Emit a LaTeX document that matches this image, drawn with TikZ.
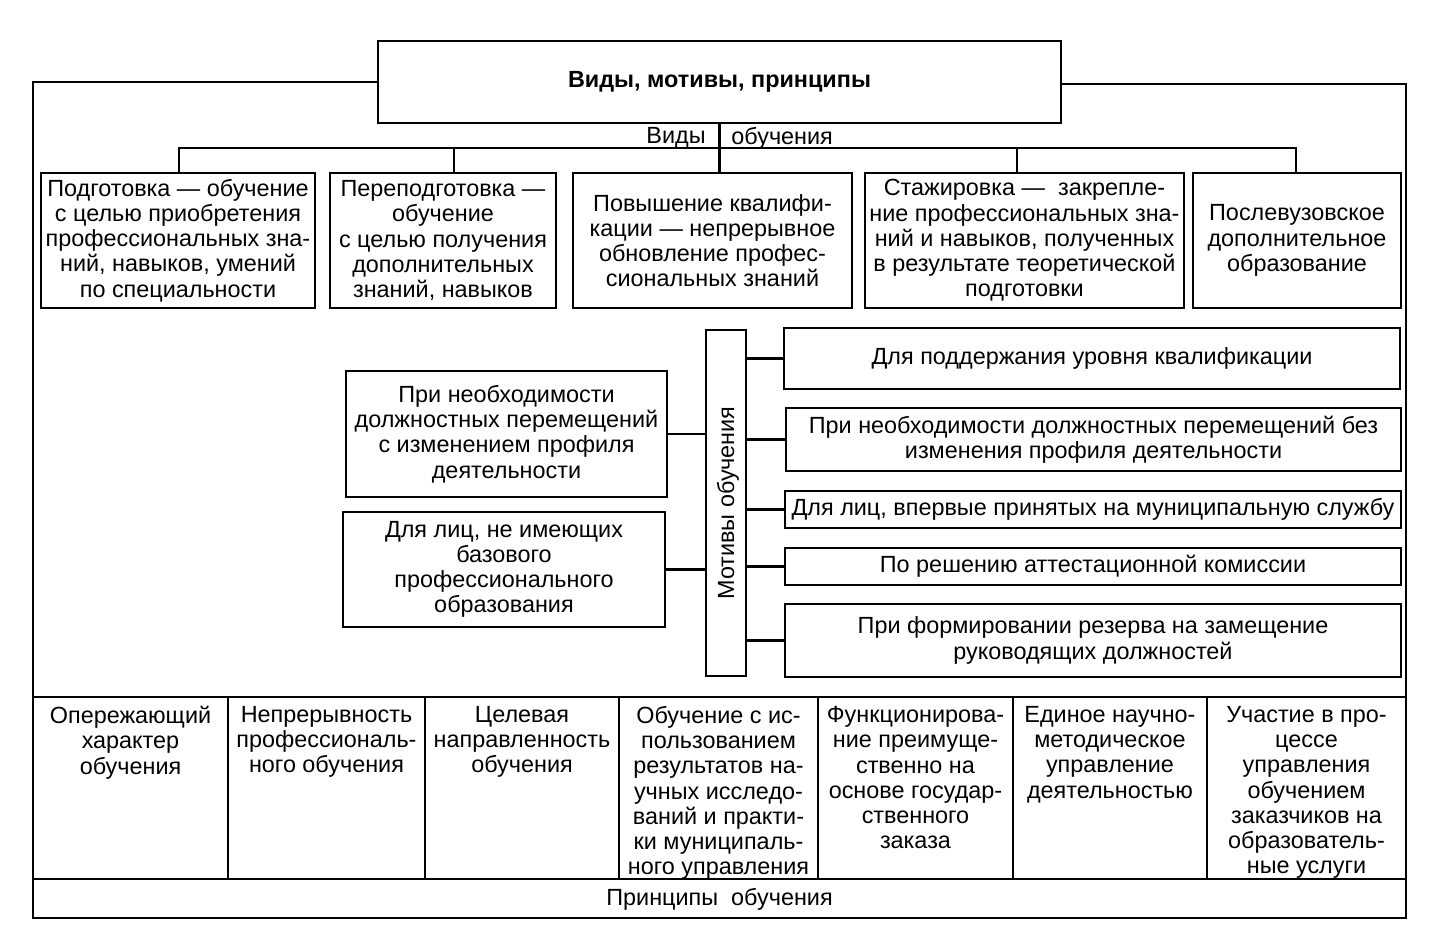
\documentclass[tikz,border=0pt]{standalone}
\usepackage{fontspec}
\setmainfont{Liberation Sans}
\begin{document}
\begin{tikzpicture}[x=0.5pt,y=-0.5pt,
  every node/.style={font=\fontsize{11.7}{12.6}\selectfont},
  ln/.style={line width=1.3pt},
  bx/.style={draw,line width=1.3pt,rectangle,inner xsep=1pt,inner ysep=0pt,align=center},
  lbl/.style={inner sep=0pt,align=center}]
\useasboundingbox (0,0) rectangle (1430,948);
% title
\node[bx,minimum width=341.5pt,minimum height=41pt,font=\fontsize{11.7}{12.6}\selectfont\bfseries] (title) at (719.5,82) {\raisebox{-1pt}{Виды, мотивы, принципы}};
% outer frame
\draw[ln] (title.west) -- (33,82) -- (33,918) -- (1406,918) -- (1406,84) -- (title.east |- 0,84);
% types of training
\node[bx,minimum width=137pt,minimum height=67.5pt] (b1) at (178,240.5) {Подготовка — обучение\\с целью приобретения\\профессиональных зна-\\ний, навыков, умений\\по специальности};
\node[bx,minimum width=113pt,minimum height=67.5pt] (b2) at (443,240.5) {Переподготовка —\\обучение\\с целью получения\\дополнительных\\знаний, навыков};
\node[bx,minimum width=139.5pt,minimum height=67.5pt] (b3) at (712.5,240.5) {Повышение квалифи-\\кации — непрерывное\\обновление профес-\\сиональных знаний};
\node[bx,minimum width=159.5pt,minimum height=67.5pt] (b4) at (1024.5,240.5) {Стажировка —\ \ закрепле-\\ние профессиональных зна-\\ний и навыков, полученных\\в результате теоретической\\подготовки};
\node[bx,minimum width=104pt,minimum height=67.5pt] (b5) at (1297,240.5) {Послевузовское\\дополнительное\\образование};
\coordinate (bus) at (0,148);
\node[lbl,anchor=east] (vidy) at (706,138) {Виды};
\node[lbl,anchor=west] (obuch) at (731,138) {обучения};
\draw[ln] (title.south) -- (title.south |- b3.north);
\draw[ln] ([xshift=0.5pt]b1.north) -- ([xshift=0.5pt]b1.north |- bus) -- ([xshift=-0.5pt]b5.north |- bus) -- ([xshift=-0.5pt]b5.north);
\draw[ln] ([xshift=5.5pt]b2.north) -- ([xshift=5.5pt]b2.north |- bus);
\draw[ln] ([xshift=-3.75pt]b4.north) -- ([xshift=-3.75pt]b4.north |- bus);
% motives
\node[bx,minimum width=20pt,minimum height=173pt] (mot) at (726,503) {};
\node[lbl,rotate=90] (motl) at (728,503) {Мотивы обучения};
\node[bx,minimum width=160.5pt,minimum height=63pt] (l1) at (506.5,434) {При необходимости\\должностных перемещений\\с изменением профиля\\деятельности};
\node[bx,minimum width=161pt,minimum height=57.5pt] (l2) at (504,569.5) {Для лиц, не имеющих\\базового\\профессионального\\образования};
\node[bx,minimum width=308pt,minimum height=30.5pt] (r1) at (1092,358.5) {Для поддержания уровня квалификации};
\node[bx,minimum width=307.5pt,minimum height=31.5pt] (r2) at (1093.5,439.5) {При необходимости должностных перемещений без\\изменения профиля деятельности};
\node[bx,minimum width=308pt,minimum height=18.5pt] (r3) at (1093,509.5) {Для лиц, впервые принятых на муниципальную службу};
\node[bx,minimum width=308pt,minimum height=18.5pt] (r4) at (1093,566.5) {По решению аттестационной комиссии};
\node[bx,minimum width=308pt,minimum height=36.5pt] (r5) at (1093,640.5) {При формировании резерва на замещение\\руководящих должностей};
\draw[ln] (l1.east) -- (l1.east -| mot.west);
\draw[ln] (l2.east) -- (l2.east -| mot.west);
\foreach \r in {r1,r2,r3,r4,r5} \draw[ln] (\r.west -| mot.east) -- (\r.west);
% principles
\draw[ln] (33,697) -- (1406,697);
\draw[ln] (33,879) -- (1406,879);
\foreach \x in {228,425,619,818,1013,1207} \draw[ln] (\x,697) -- (\x,879);
\node[lbl,anchor=north] (c1) at (130.5,706) {Опережающий\\характер\\обучения};
\node[lbl,anchor=north] (c2) at (326.5,706) {Непрерывность\\профессиональ-\\ного обучения};
\node[lbl,anchor=north] (c3) at (522,706) {Целевая\\направленность\\обучения};
\node[lbl,anchor=north] (c4) at (718.5,706) {Обучение с ис-\\пользованием\\результатов на-\\учных исследо-\\ваний и практи-\\ки муниципаль-\\ного управления};
\node[lbl,anchor=north] (c5) at (915.5,706) {Функционирова-\\ние преимуще-\\ственно на\\основе государ-\\ственного\\заказа};
\node[lbl,anchor=north] (c6) at (1110,706) {Единое научно-\\методическое\\управление\\деятельностью};
\node[lbl,anchor=north] (c7) at (1306.5,706) {Участие в про-\\цессе\\управления\\обучением\\заказчиков на\\образователь-\\ные услуги};
\node[lbl] (princ) at (719.5,899) {Принципы\ \ обучения};
\end{tikzpicture}
\end{document}
